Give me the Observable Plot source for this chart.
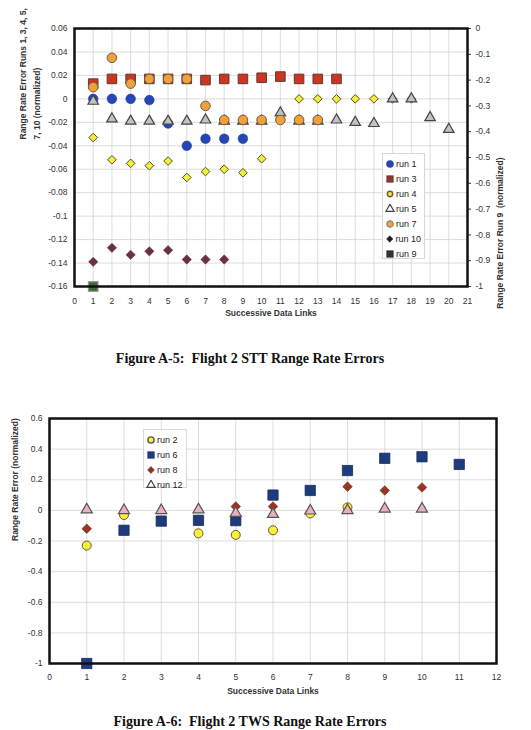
<!DOCTYPE html>
<html><head><meta charset="utf-8">
<script src="https://cdn.jsdelivr.net/npm/d3@7"></script>
<script src="https://cdn.jsdelivr.net/npm/@observablehq/plot@0.6"></script>
<style>
body{margin:0;background:#fff;font-family:"Liberation Sans",Arial,sans-serif;}
#wrap{position:relative;width:531px;height:730px;overflow:hidden;background:#fff}
.chart{position:absolute;left:0}
.caption{position:absolute;left:0;width:500px;text-align:center;white-space:pre;font-family:"Liberation Serif","Times New Roman",serif;font-weight:bold;font-size:14px;color:#111;line-height:15px}
.legend{position:absolute;background:#fff;border:1px solid #d8d8d8;font-size:9px;color:#222;padding:2px 3px 2px 2px;box-sizing:border-box}
.legend .row{display:flex;align-items:center;height:15px;white-space:nowrap}
.legend svg{margin-right:1px}
</style></head><body><div id="wrap"></div>
<script>
// ---------- Figure A-5 data (left axis: runs 1,3,4,5,7,10; right axis: run 9) ----------
const run1X = [1,2,3,4,5,6,7,8,9];
const run1Y = [0.000,0.000,0.000,-0.001,-0.021,-0.040,-0.034,-0.034,-0.034];
const run3X = [1,2,3,4,5,6,7,8,9,10,11,12,13,14];
const run3Y = [0.013,0.017,0.017,0.017,0.017,0.017,0.016,0.017,0.017,0.018,0.019,0.017,0.017,0.017];
const run4X = [1,2,3,4,5,6,7,8,9,10,12,13,14,15,16,17,18];
const run4Y = [-0.033,-0.052,-0.055,-0.057,-0.053,-0.067,-0.062,-0.060,-0.063,-0.051,0.000,0.000,0.000,0.000,0.000,0.000,0.000];
const run5X = [1,2,3,4,5,6,7,8,9,10,11,12,13,14,15,16,17,18,19,20];
const run5Y = [-0.002,-0.017,-0.019,-0.019,-0.019,-0.019,-0.018,-0.019,-0.019,-0.019,-0.012,-0.019,-0.019,-0.018,-0.020,-0.021,0.000,0.000,-0.016,-0.026];
const run7X = [1,2,3,4,5,6,7,8,9,10,11,12,13];
const run7Y = [0.010,0.035,0.013,0.017,0.017,0.017,-0.006,-0.018,-0.018,-0.018,-0.018,-0.018,-0.018];
const run10X = [1,2,3,4,5,6,7,8];
const run10Y = [-0.139,-0.127,-0.133,-0.130,-0.129,-0.137,-0.137,-0.137];
const run9X = [1];
const run9Y = [-1.0];
const leftTicksA = [0.06,0.04,0.02,0,-0.02,-0.04,-0.06,-0.08,-0.1,-0.12,-0.14,-0.16];
const rightTicksA = [0,-0.1,-0.2,-0.3,-0.4,-0.5,-0.6,-0.7,-0.8,-0.9,-1];
const linksA = d3.range(0,22);

// ---------- Figure A-6 data ----------
const run2X = [1,2,4,5,6,7,8];
const run2Y = [-0.23,-0.03,-0.15,-0.16,-0.13,-0.02,0.02];
const run6X = [1,2,3,4,5,6,7,8,9,10,11];
const run6Y = [-1.0,-0.13,-0.07,-0.065,-0.067,0.10,0.13,0.26,0.34,0.35,0.30];
const run8X = [1,5,6,8,9,10];
const run8Y = [-0.12,0.025,0.025,0.155,0.13,0.15];
const run12X = [1,2,3,4,5,6,7,8,9,10];
const run12Y = [0.005,0.0,0.0,0.005,-0.018,-0.025,-0.003,0.0,0.01,0.01];
const ticksB = [0.6,0.4,0.2,0,-0.2,-0.4,-0.6,-0.8,-1];
const linksB = d3.range(0,13);

const fmt = v => { const r = Math.round(v*1000)/1000; return String(r); };
const pts = (xs, ys) => xs.map((x,i)=>({x, y: ys[i]}));
// right axis (run 9) mapped onto left scale
const toLeft = r => 0.06 + r*0.22;
const fromLeft = v => Math.round((v-0.06)/0.22*10)/10;

const wrap = document.getElementById("wrap");
const fontStyle = {fontFamily:'"Liberation Sans", Arial, sans-serif', fontSize:"8.5px", color:"#333", background:"transparent", overflow:"visible"};

// ---------- Top chart ----------
const chartA = Plot.plot({
  width:531, height:325,
  marginLeft:74, marginRight:64, marginTop:28, marginBottom:39,
  x:{domain:[0,21]},
  y:{domain:[-0.16,0.06]},
  style:fontStyle,
  marks:[
    Plot.gridX(linksA, {stroke:"#cfcfcf", strokeOpacity:1, strokeWidth:0.7}),
    Plot.gridY(leftTicksA, {stroke:"#cfcfcf", strokeOpacity:1, strokeWidth:0.7}),
    Plot.axisX(linksA, {tickSize:0, tickPadding:11, tickFormat:d=>String(d), label:null}),
    Plot.axisY(leftTicksA, {tickSize:0, tickPadding:7, tickFormat:fmt, label:null}),
    Plot.axisY(rightTicksA.map(toLeft), {anchor:"right", tickSize:3, tickPadding:5, tickFormat:v=>String(fromLeft(v)), label:null}),
    Plot.dot(pts(run1X,run1Y), {x:"x", y:"y", symbol:"circle", r:4.8, fill:"#2746b5", stroke:"#1f3a90", strokeWidth:0.6}),
    Plot.dot(pts(run3X,run3Y), {x:"x", y:"y", symbol:"square", r:5.4, fill:"#cc3522", stroke:"#5e3a30", strokeWidth:1}),
    Plot.dot(pts(run4X,run4Y), {x:"x", y:"y", symbol:"diamond2", r:3.9, fill:"#f3ee3a", stroke:"#55502a", strokeWidth:1}),
    Plot.dot(pts(run5X,run5Y), {x:"x", y:"y", symbol:"triangle", r:3.9, fill:"#c2c2c2", stroke:"#454545", strokeWidth:1.2}),
    Plot.dot(pts(run7X,run7Y), {x:"x", y:"y", symbol:"circle", r:4.8, fill:"#f1a03e", stroke:"#7a5a3a", strokeWidth:1}),
    Plot.dot(pts(run10X,run10Y), {x:"x", y:"y", symbol:"diamond2", r:4.2, fill:"#6b3042", stroke:"#5a2838", strokeWidth:0.5}),
    Plot.dot(pts(run9X,run9Y.map(toLeft)), {x:"x", y:"y", symbol:"square", r:5.4, fill:"#3d6b3b", stroke:"#9a9a9a", strokeWidth:1.2}),
    Plot.frame({stroke:"#111", strokeWidth:2.5}),
    Plot.text(["Range Rate Error Runs 1, 3, 4, 5,\n7, 10 (normalized)"], {frameAnchor:"left", dx:-46, dy:-18, rotate:-90, fontWeight:"bold", fontSize:8.5, fill:"#333", lineHeight:1.65}),
    Plot.text(["Range Rate Error Run 9  (normalized)"], {frameAnchor:"right", dx:33, rotate:-90, fontWeight:"bold", fontSize:8.5, fill:"#333"}),
    Plot.text(["Successive Data Links"], {frameAnchor:"bottom", dy:29, fontWeight:"bold", fontSize:8.5, fill:"#333"})
  ]
});
chartA.classList.add("chart");
chartA.style.top = "0px";
wrap.appendChild(chartA);

// ---------- Bottom chart ----------
const chartB = Plot.plot({
  width:531, height:310,
  marginLeft:49, marginRight:35, marginTop:28, marginBottom:37,
  x:{domain:[0,12]},
  y:{domain:[-1,0.6]},
  style:fontStyle,
  marks:[
    Plot.gridX(linksB, {stroke:"#cfcfcf", strokeOpacity:1, strokeWidth:0.7}),
    Plot.gridY(ticksB, {stroke:"#cfcfcf", strokeOpacity:1, strokeWidth:0.7}),
    Plot.axisX(linksB, {tickSize:0, tickPadding:10, tickFormat:d=>String(d), label:null}),
    Plot.axisY(ticksB, {tickSize:0, tickPadding:7, tickFormat:fmt, label:null}),
    Plot.dot(pts(run2X,run2Y), {x:"x", y:"y", symbol:"circle", r:4.5, fill:"#f6f13a", stroke:"#6a5a2a", strokeWidth:1}),
    Plot.dot(pts(run6X,run6Y), {x:"x", y:"y", symbol:"square", r:5.8, fill:"#1e3b7e", stroke:"#172c5c", strokeWidth:0.8}),
    Plot.dot(pts(run8X,run8Y), {x:"x", y:"y", symbol:"diamond2", r:4.3, fill:"#9a3322", stroke:"#6a2a1a", strokeWidth:0.6}),
    Plot.dot(pts(run12X,run12Y), {x:"x", y:"y", symbol:"triangle", r:4.1, fill:"#eab0c0", stroke:"#555", strokeWidth:1.2}),
    Plot.frame({stroke:"#111", strokeWidth:2.5}),
    Plot.text(["Range Rate Error (normalized)"], {frameAnchor:"left", dx:-34, rotate:-90, fontWeight:"bold", fontSize:8.5, fill:"#333"}),
    Plot.text(["Successive Data Links"], {frameAnchor:"bottom", dy:30, fontWeight:"bold", fontSize:8.5, fill:"#333"})
  ]
});
chartB.classList.add("chart");
chartB.style.top = "390px";
wrap.appendChild(chartB);

// ---------- Legends ----------
function glyph(sym, size, fill, stroke, sw) {
  const p = d3.symbol(sym, size)();
  return `<svg width="10" height="10" viewBox="-5 -5 10 10"><path d="${p}" fill="${fill}" stroke="${stroke}" stroke-width="${sw}"/></svg>`;
}
function legend(items, left, topPx, w, h) {
  const div = document.createElement("div");
  div.className = "legend";
  div.style.left = left+"px"; div.style.top = topPx+"px";
  div.style.width = w+"px"; div.style.height = h+"px";
  div.innerHTML = items.map(it => `<div class="row">${glyph(it.s, it.z, it.f, it.k, it.w)}<span>${it.t}</span></div>`).join("");
  wrap.appendChild(div);
}
const legendA = ["run 1","run 3","run 4","run 5","run 7","run 10","run 9"];
legend([
  {t:legendA[0], s:d3.symbolCircle, z:40, f:"#2746b5", k:"#1f3a90", w:0.5},
  {t:legendA[1], s:d3.symbolSquare, z:45, f:"#8b3a30", k:"#5e3a30", w:0.5},
  {t:legendA[2], s:d3.symbolCircle, z:22, f:"#f3ee3a", k:"#6a6040", w:1.5},
  {t:legendA[3], s:d3.symbolTriangle, z:30, f:"#fff", k:"#444", w:1.2},
  {t:legendA[4], s:d3.symbolCircle, z:34, f:"#f1a03e", k:"#777", w:1},
  {t:legendA[5], s:d3.symbolDiamond2, z:30, f:"#222", k:"#222", w:0.5},
  {t:legendA[6], s:d3.symbolSquare, z:45, f:"#333", k:"#333", w:0.5}
], 382, 153, 43, 106);
const legendB = ["run 2","run 6","run 8","run 12"];
legend([
  {t:legendB[0], s:d3.symbolCircle, z:30, f:"#f6f13a", k:"#555", w:1.4},
  {t:legendB[1], s:d3.symbolSquare, z:45, f:"#1e3b7e", k:"#1e3b7e", w:0.5},
  {t:legendB[2], s:d3.symbolDiamond2, z:30, f:"#8a3322", k:"#6a2a1a", w:0.5},
  {t:legendB[3], s:d3.symbolTriangle, z:30, f:"#fff", k:"#444", w:1.2}
], 143, 429, 44, 59);

// ---------- Captions ----------
function caption(text, topPx) {
  const d = document.createElement("div");
  d.className = "caption"; d.textContent = text; d.style.top = topPx+"px";
  wrap.appendChild(d);
}
caption("Figure A-5:  Flight 2 STT Range Rate Errors", 351);
caption("Figure A-6:  Flight 2 TWS Range Rate Errors", 714);
</script></body></html>
